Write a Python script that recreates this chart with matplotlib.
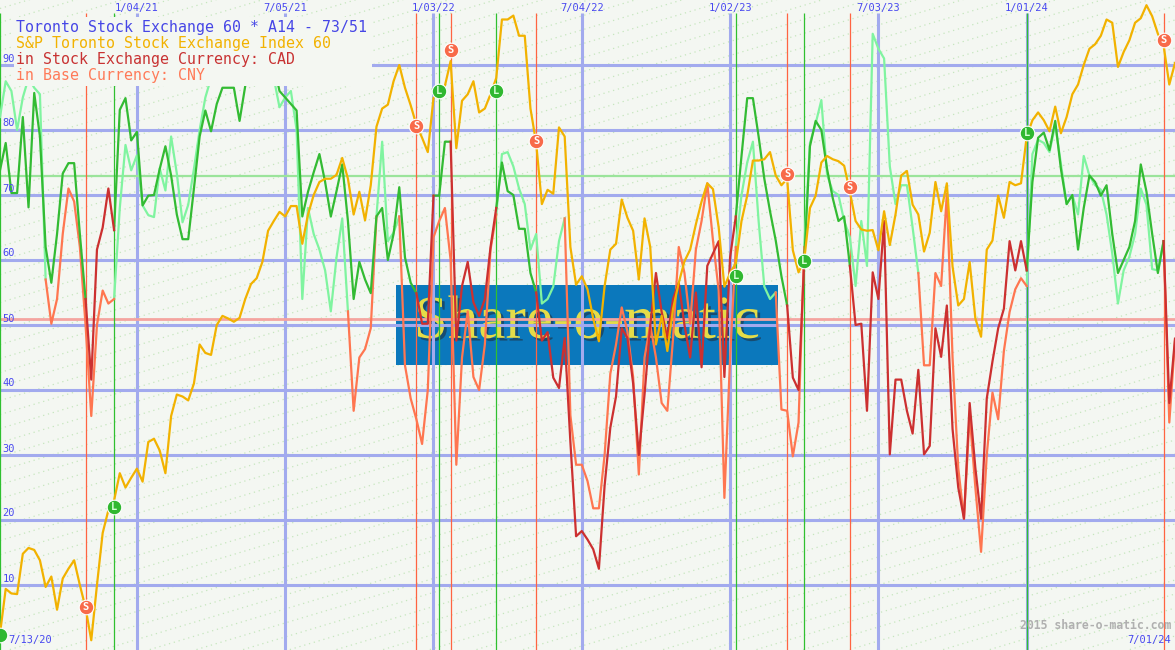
import numpy as np
import pandas as pd
import matplotlib
matplotlib.use("Agg")
import matplotlib.pyplot as plt
from matplotlib.patches import Rectangle
import matplotlib.patheffects as pe

# weekly readings, first week 2020-07-20
start = pd.Timestamp("2020-07-20")
end = pd.Timestamp("2024-07-01")

sp_index = [
    2.5, 9.4, 8.7, 8.6, 14.8, 15.7, 15.4, 13.8, 9.7, 11.3,
    6.2, 11.0, 12.5, 13.8, 10.0, 6.5, 1.5, 10.0, 18.0, 21.5,
    23.0, 27.2, 25.0, 26.5, 27.9, 25.9, 32.0, 32.5, 30.7, 27.2,
    36.0, 39.3, 39.0, 38.4, 41.0, 47.0, 45.7, 45.4, 50.0, 51.4,
    51.0, 50.5, 51.1, 54.0, 56.3, 57.2, 59.7, 64.5, 66.0, 67.4,
    66.7, 68.3, 68.3, 62.5, 67.0, 70.0, 72.0, 72.5, 72.5, 73.1,
    75.7, 72.5, 67.0, 70.5, 66.1, 71.5, 80.5, 83.3, 83.9, 87.5,
    90.0, 86.5, 83.8, 80.8, 78.8, 76.6, 84.9, 86.2, 86.8, 90.6,
    77.2, 84.5, 85.5, 87.5, 82.7, 83.3, 85.5, 88.0, 97.0, 97.0,
    97.6, 94.5, 94.5, 83.3, 78.0, 68.6, 70.8, 70.2, 80.4, 79.0,
    62.0, 56.2, 57.5, 55.5, 51.0, 47.5, 56.0, 61.6, 62.5, 69.3,
    66.5, 64.5, 57.0, 66.4, 62.0, 47.0, 51.4, 46.0, 52.5, 56.5,
    59.8, 61.6, 65.5, 69.0, 71.8, 70.9, 65.0, 55.9, 58.0, 59.5,
    66.0, 69.9, 75.3, 75.3, 75.5, 76.6, 73.0, 71.5, 72.5, 61.5,
    58.1, 60.0, 68.0, 69.9, 75.0, 76.0, 75.5, 75.2, 74.5, 70.5,
    66.0, 64.7, 64.5, 64.6, 61.5, 67.5, 62.3, 67.0, 73.0, 73.7,
    68.5, 67.0, 61.3, 64.2, 72.0, 67.5, 71.8, 59.0, 53.0, 54.0,
    59.7, 51.0, 48.2, 61.6, 63.0, 69.9, 66.5, 72.0, 71.5, 71.8,
    79.0, 81.5, 82.7, 81.5, 79.8, 83.6, 79.5, 82.0, 85.5, 87.0,
    90.0, 92.5, 93.2, 94.5, 97.0, 96.5, 89.7, 92.0, 93.8, 96.5,
    97.2, 99.2, 97.5, 94.8, 93.0, 87.0, 90.3,
]

cad = [
    73.8, 78.0, 70.3, 70.3, 82.0, 68.1, 85.7, 79.0, 62.0, 56.5,
    64.0, 73.3, 74.9, 74.9, 64.0, 54.0, 41.6, 61.6, 65.0, 71.0,
    64.6, 83.1, 84.9, 78.4, 79.7, 68.4, 69.9, 70.0, 74.0, 77.5,
    73.0, 67.0, 63.2, 63.2, 71.0, 79.0, 83.0, 79.8, 84.0, 86.5,
    86.5, 86.5, 81.4, 86.8, 92.0, 94.0, 93.0, 92.0, 90.0, 86.0,
    85.0, 84.0, 83.0, 66.7, 70.5, 73.5, 76.3, 72.0, 66.7, 70.6,
    74.7, 66.0, 54.0, 59.7, 57.0, 54.9, 66.7, 68.0, 60.0, 64.0,
    71.2, 60.4, 56.5, 54.9, 50.2, 50.2, 69.9, 69.9, 78.2, 78.2,
    47.6, 56.0, 59.7, 53.5, 51.4, 54.0, 62.0, 68.0, 75.0, 70.6,
    70.0, 64.8, 64.8, 58.0, 55.0, 47.6, 48.9, 41.9, 40.3, 48.0,
    32.0, 17.5, 18.3, 17.0, 15.5, 12.5, 25.3, 34.2, 39.0, 49.5,
    48.0, 41.0, 30.0, 39.3, 50.0, 58.0, 52.0, 48.0, 54.0, 56.5,
    50.0, 45.0, 55.0, 43.5, 59.1, 61.0, 62.9, 42.0, 60.4, 66.7,
    76.0, 84.9, 84.9, 79.0, 72.5, 67.5, 63.0, 57.5, 53.0, 41.9,
    40.0, 60.0, 77.5, 81.4, 80.0, 74.0, 69.5, 66.0, 66.7, 59.1,
    50.0, 50.2, 36.8, 58.1, 54.0, 66.0, 30.1, 41.6, 41.6, 36.8,
    33.3, 43.1, 30.1, 31.4, 49.5, 45.1, 53.0, 34.0, 25.0, 20.2,
    38.0, 28.0, 20.2, 38.7, 44.4, 49.5, 52.5, 62.9, 58.4, 62.9,
    58.4, 72.0, 78.8, 79.6, 76.9, 81.4, 74.0, 68.6, 70.0, 61.6,
    68.0, 73.0, 72.0, 69.9, 71.5, 64.0, 58.0, 60.0, 62.0, 66.0,
    74.7, 70.5, 64.0, 58.0, 62.9, 38.0, 47.9,
]

cny = [
    82.0, 87.5, 86.0, 80.0, 85.0, 88.0, 86.5, 85.5, 57.0, 50.2,
    54.0, 64.0, 71.0, 69.0, 62.0, 50.0, 36.0, 50.0, 55.3, 53.3,
    54.0, 68.0, 77.7, 73.8, 76.1, 68.4, 66.9, 66.6, 74.1, 70.7,
    79.0, 73.3, 65.8, 68.5, 74.0, 80.0, 85.0, 88.0, 91.0, 92.0,
    93.0, 92.0, 91.0, 93.0, 92.0, 93.0, 92.0, 91.0, 88.0, 83.5,
    85.0, 86.0, 80.0, 54.0, 68.0, 64.0, 61.6, 58.4, 52.1, 60.4,
    66.4, 52.1, 36.8, 45.0, 46.3, 49.5, 66.7, 78.2, 62.9, 64.2,
    66.7, 43.8, 38.7, 35.5, 31.7, 40.0, 63.5, 66.0, 68.0, 60.0,
    28.5, 45.0, 52.1, 42.0, 40.0, 47.0, 61.6, 67.0, 76.3, 76.6,
    74.4, 71.0, 68.6, 61.6, 64.0, 53.3, 54.0, 55.9, 62.9, 66.4,
    36.1, 28.5, 28.5, 26.0, 21.8, 21.8, 30.0, 42.5, 47.0, 52.7,
    49.0, 42.0, 27.0, 45.0, 50.0, 45.0, 38.0, 36.8, 48.0, 62.0,
    58.0, 50.2, 61.6, 66.0, 71.8, 63.0, 55.3, 23.4, 45.0, 62.0,
    70.0, 75.0, 78.2, 66.0, 55.9, 54.0, 55.0, 37.0, 36.8, 29.8,
    35.0, 62.0, 78.0, 81.0, 84.6, 73.1, 70.6, 70.0, 66.0, 63.5,
    56.0, 66.0, 59.1, 94.8, 92.5, 91.0, 74.4, 68.6, 71.5, 71.5,
    65.0, 58.0, 43.8, 43.8, 58.0, 56.0, 70.2, 45.0, 28.0, 20.2,
    36.1, 25.0, 15.1, 30.0, 39.6, 35.5, 46.0, 52.0, 55.5, 57.2,
    56.0, 76.3, 78.5, 78.0, 76.6, 80.8, 74.8, 68.6, 70.0, 67.0,
    76.0, 73.0, 71.5, 70.8, 67.0, 61.0, 53.3, 58.4, 60.5, 64.0,
    71.0, 68.5, 58.6, 58.4, 62.9, 35.0, 47.6,
]

# week index ranges drawn in the "short" colours
cad_short = [(15, 20), (73, 76), (79, 87), (94, 129), (138, 141), (149, 180), (204, 206)]
cny_short = [(8, 20), (61, 66), (70, 87), (99, 129), (136, 141), (161, 180), (204, 206)]

sell_dates = ["2020-11-02", "2021-12-13", "2022-01-24", "2022-05-09",
              "2023-03-13", "2023-05-29", "2024-06-17"]
sell_vals = [6.6, 80.6, 92.3, 78.3, 73.3, 71.3, 93.8]
long_dates = ["2020-07-20", "2020-12-07", "2022-01-10", "2022-03-21",
              "2023-01-09", "2023-04-03", "2024-01-01"]
long_vals = [2.3, 22.0, 86.0, 86.0, 57.6, 59.8, 79.5]

grid_dates = ["2021-01-04", "2021-07-05", "2022-01-03", "2022-07-04",
              "2023-01-02", "2023-07-03", "2024-01-01"]
grid_labels = ["1/04/21", "7/05/21", "1/03/22", "7/04/22", "1/02/23", "7/03/23", "1/01/24"]
y_levels = [10, 20, 30, 40, 50, 60, 70, 80, 90]
upper_level, lower_level = 73, 51

title_lines = [
    ("Toronto Stock Exchange 60 * A14 - 73/51", "#4646e6"),
    ("S&P Toronto Stock Exchange Index 60", "#f2b200"),
    ("in Stock Exchange Currency: CAD", "#c83232"),
    ("in Base Currency: CNY", "#ff7a58"),
]


def wk(d):
    return (pd.Timestamp(d) - start).days / 7.0


def split(vals, short):
    v = np.array(vals, float)
    red = np.full_like(v, np.nan)
    green = v.copy()
    for a, b in short:
        red[a:b + 1] = v[a:b + 1]
        green[a + 1:b] = np.nan
    return green, red


BG = "#f4f7f2"
BLUE = "#a2aaee"
TXT_BLUE = "#4848f0"
MONO = "DejaVu Sans Mono"

fig = plt.figure(figsize=(11.75, 6.5), dpi=100, facecolor=BG)
ax = fig.add_axes([0, 0, 1, 1])
ax.set_facecolor(BG)
ax.set_xlim(0, wk(end))
ax.set_ylim(0, 100)
ax.set_axis_off()

# faint dotted diagonal texture
slope = 0.3
for y0 in np.arange(-1175 * slope, 650, 14):
    ax.plot([0, 1], [y0 / 650, (y0 + 1175 * slope) / 650], transform=ax.transAxes,
            color="#c6e6be", lw=0.9, ls=(0, (1, 3)), zorder=0.5)

# watermark box
x0, x1 = 69.4, 136.4
ax.add_patch(Rectangle((x0, 43.9), x1 - x0, 12.2, facecolor="#0b78bc",
                       edgecolor="none", zorder=1))
ax.text((x0 + x1) / 2, 50.3, "Share-o-matic", family="Liberation Serif",
        fontsize=44, color="#e4dc48", ha="center", va="center", zorder=1.2,
        path_effects=[pe.withSimplePatchShadow(offset=(2, -2), shadow_rgbFace="#203040", alpha=0.6)])

# grid
for v in y_levels:
    ax.axhline(v, color=BLUE, lw=2.2, zorder=2)
gw = [wk(d) for d in grid_dates]
ax.vlines(gw, 0, 98, color=BLUE, lw=2.2, zorder=2)

ax.axhline(upper_level, color="#9be49b", lw=1.6, zorder=2.5)
ax.axhline(lower_level, color="#f4a4a0", lw=2.0, zorder=2.5)

sw = [wk(d) for d in sell_dates]
lw_ = [wk(d) for d in long_dates]
ax.vlines(sw, 0, 98, color="#ff6442", lw=0.9, zorder=3)
ax.vlines(lw_, 0, 98, color="#30c030", lw=0.9, zorder=3)

weeks = np.arange(len(sp_index))
cny_g, cny_r = split(cny, cny_short)
cad_g, cad_r = split(cad, cad_short)
ax.plot(weeks, cny_g, color="#80f4a0", lw=1.6, zorder=4)
ax.plot(weeks, cny_r, color="#ff7650", lw=1.6, zorder=4)
ax.plot(weeks, cad_g, color="#33bb33", lw=1.6, zorder=5)
ax.plot(weeks, cad_r, color="#cc3030", lw=1.6, zorder=5)
ax.plot(weeks, sp_index, color="#f2b200", lw=1.6, zorder=6)

# signal markers
ax.scatter(sw, sell_vals, s=110, color="#f86a4a", edgecolors="white", linewidths=0.8, zorder=7)
ax.scatter(lw_, long_vals, s=110, color="#30b830", edgecolors="white", linewidths=0.8, zorder=7)
for x, y in zip(sw, sell_vals):
    ax.text(x, y, "S", color="white", fontsize=7.5, fontweight="bold", family=MONO,
            ha="center", va="center", zorder=7.5)
for x, y in zip(lw_, long_vals):
    if x < 1:
        continue  # marker half outside the plot, letter not visible
    ax.text(x, y, "L", color="#d8ffd8", fontsize=7.5, fontweight="bold", family=MONO,
            ha="center", va="center", zorder=7.5)

# title block
ax.add_patch(Rectangle((0.012, 0.868), 0.305, 0.106, transform=ax.transAxes,
                       facecolor=BG, edgecolor="none", zorder=8))
for i, (txt, col) in enumerate(title_lines):
    ax.text(0.0136, 0.957 - i * 0.0245, txt, transform=ax.transAxes, color=col,
            fontsize=10.7, family=MONO, ha="left", va="center", zorder=9)

# labels
yt = ax.get_yaxis_transform()
for v in y_levels:
    ax.text(0.002, v + 1.0, str(v), transform=yt, color=TXT_BLUE, fontsize=7.5,
            family=MONO, ha="left", va="center", zorder=9)
xt = ax.get_xaxis_transform()
for x, lab in zip(gw, grid_labels):
    ax.text(x, 0.987, lab, transform=xt, color=TXT_BLUE, fontsize=7.5,
            family=MONO, ha="center", va="center", zorder=9)
ax.text(0.007, 0.015, "7/13/20", transform=ax.transAxes, color=TXT_BLUE,
        fontsize=7.5, family=MONO, ha="left", va="center", zorder=9)
ax.text(0.997, 0.015, "7/01/24", transform=ax.transAxes, color=TXT_BLUE,
        fontsize=7.5, family=MONO, ha="right", va="center", zorder=9)
ax.text(0.997, 0.038, "2015 share-o-matic.com", transform=ax.transAxes, color="#b0b0b0",
        fontsize=8.3, family=MONO, fontweight="bold", ha="right", va="center", zorder=9)

fig.savefig("out.png", dpi=100, facecolor=BG)
